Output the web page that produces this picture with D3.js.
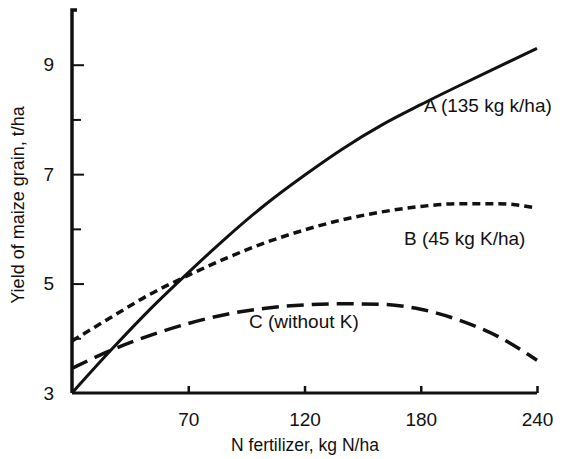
<!DOCTYPE html>
<html>
<head>
<meta charset="utf-8">
<script src="https://cdn.jsdelivr.net/npm/d3@7"></script>
<style>
  html, body { margin: 0; padding: 0; background: #fff; }
  svg text { font-family: "Liberation Sans", Arial, Helvetica, sans-serif; fill: #111; }
</style>
</head>
<body>
<svg id="chart" width="563" height="459"></svg>
<script>
// ---- data ----
const nRates = [0, 20, 40, 60, 80, 100, 120, 140, 160, 180, 200, 220, 240];
const yieldA = [3.0, 3.78, 4.52, 5.2, 5.85, 6.45, 6.98, 7.47, 7.9, 8.27, 8.62, 8.96, 9.3];
const yieldB = [3.95, 4.38, 4.8, 5.15, 5.47, 5.75, 5.98, 6.17, 6.31, 6.41, 6.46, 6.46, 6.38];
const yieldC = [3.45, 3.78, 4.05, 4.27, 4.44, 4.55, 4.61, 4.63, 4.62, 4.53, 4.33, 4.03, 3.6];
const seriesLabels = ["A (135 kg k/ha)", "B (45 kg K/ha)", "C (without K)"];
const xTickValues = [60, 120, 180, 240];
const xTickLabels = ["70", "120", "180", "240"];
const yTickValues = [3, 4, 5, 6, 7, 8, 9];
const yTickLabels = ["3", "", "5", "", "7", "", "9"];
const xTitle = "N fertilizer, kg N/ha";
const yTitle = "Yield of maize grain, t/ha";

const svg = d3.select("#chart");
const x = d3.scaleLinear().domain([0, 240]).range([72, 537]);
const y = d3.scaleLinear().domain([3, 10]).range([393, 10]);

// axes
const xAxis = d3.axisBottom(x).tickValues(xTickValues).tickSize(-7)
  .tickFormat((d, i) => xTickLabels[i]).tickPadding(20);
const gx = svg.append("g").attr("transform", `translate(0,${y(3)})`).call(xAxis);
gx.select(".domain").attr("d", `M${x(0)},0H${x(240)}`).attr("stroke", "#111").attr("stroke-width", 3);
gx.selectAll(".tick line").attr("stroke", "#111").attr("stroke-width", 2.5);
gx.selectAll(".tick text").attr("font-size", 19).attr("fill", "#111");

const yAxis = d3.axisLeft(y).tickValues(yTickValues)
  .tickSize(-10).tickFormat((d, i) => yTickLabels[i]).tickPadding(18);
const gy = svg.append("g").attr("transform", `translate(${x(0)},0)`).call(yAxis);
gy.select(".domain").attr("d", `M0,${y(3)}V${y(10)}H5`).attr("stroke", "#111").attr("stroke-width", 3.5);
gy.selectAll(".tick line").attr("stroke", "#111").attr("stroke-width", 2)
  .attr("x2", d => (d % 2 === 1 ? 12 : 9));
gy.selectAll(".tick").filter(d => d === 3).select("line").remove();
gy.selectAll(".tick text").attr("font-size", 19).attr("fill", "#111");

// titles
svg.append("text").attr("x", 305).attr("y", 451).attr("text-anchor", "middle")
  .attr("font-size", 17.5).text(xTitle);
svg.append("text").attr("transform", `translate(24,205) rotate(-90)`)
  .attr("text-anchor", "middle").attr("font-size", 18).text(yTitle);

// curves
const line = d3.line().x((d, i) => x(nRates[i])).y(d => y(d)).curve(d3.curveMonotoneX);
const curves = [
  { data: yieldA, dash: null, w: 3 },
  { data: yieldB, dash: "8,5", w: 3.5 },
  { data: yieldC, dash: "17,8", w: 3.5 }
];
svg.append("g").selectAll("path").data(curves).join("path")
  .attr("d", d => line(d.data))
  .attr("fill", "none").attr("stroke", "#111")
  .attr("stroke-width", d => d.w)
  .attr("stroke-dasharray", d => d.dash);

// curve labels
const labelPos = [[424, 112], [404, 245], [249, 328]];
svg.append("g").selectAll("text").data(seriesLabels).join("text")
  .attr("x", (d, i) => labelPos[i][0]).attr("y", (d, i) => labelPos[i][1])
  .attr("font-size", 19).text(d => d);
</script>
</body>
</html>
